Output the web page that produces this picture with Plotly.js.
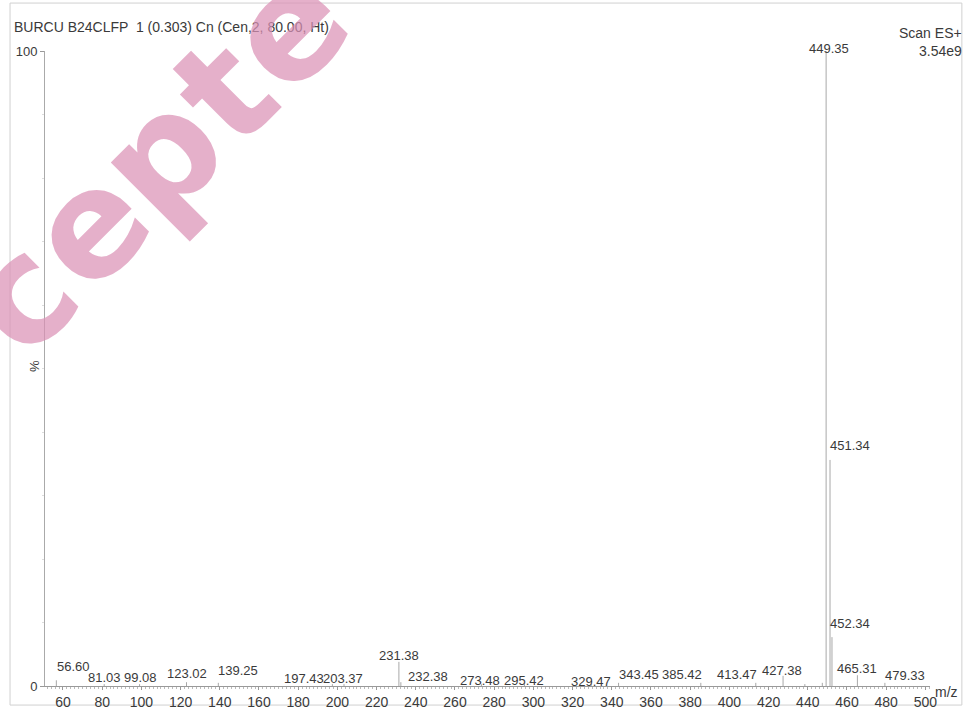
<!DOCTYPE html>
<html>
<head>
<meta charset="utf-8">
<script src="https://cdn.plot.ly/plotly-3.0.1.min.js"></script>
<style>html,body{margin:0;padding:0;background:#fff;}#chart{width:966px;height:710px;}</style>
</head>
<body>
<div id="chart"></div>
<script>
// ---- data ----
const peakMz = [56.60, 81.03, 99.08, 123.02, 139.25, 197.43, 203.37, 231.38, 232.38, 273.48, 295.42,
                329.47, 343.45, 385.42, 413.47, 427.38, 449.35, 451.34, 452.34, 465.31, 479.33];
const peakIntensity = [0.9, 0.3, 0.3, 0.6, 0.5, 0.3, 0.3, 3.8, 0.6, 0.3, 0.3,
                       0.3, 0.5, 0.5, 0.5, 1.6, 100, 35.6, 7.7, 1.7, 0.5];
const peakLabels = peakMz.map(v => v.toFixed(2));
const minorMz = [438.5, 447.4];
const minorIntensity = [0.3, 0.5];
const xTickVals = [60, 80, 100, 120, 140, 160, 180, 200, 220, 240, 260, 280, 300, 320, 340, 360, 380, 400, 420, 440, 460, 480, 500];
const yTickVals = [0, 100];
const titleText = 'BURCU B24CLFP  1 (0.303) Cn (Cen,2, 80.00, Ht)';
const stampLetters = ['c', 'e', 'p', 't', 'e'];   // visible part of the "Accepted" stamp

// ---- label placement (pixel offsets: horizontal shift, height of label centre above baseline) ----
const labelDx = [17, 0, 1, 0, 20, -28, -1, 0, 27, -1, 0, 0, 20, -19, -19, -1, 3, 20, 18, 0, 20];
const labelH  = [20, 9, 9, 13, 16, 8, 8, 31, 10, 6, 6, 5, 12, 12, 12, 16, 638, 241, 63, 18, 11];

const allMz = peakMz.concat(minorMz);
const allI = peakIntensity.concat(minorIntensity);
const sx = [], sy = [];
allMz.forEach((m, i) => { sx.push(m, m, null); sy.push(0, allI[i], null); });

const font = 'Liberation Sans, Arial, sans-serif';
const txt = '#3a3a3a';
// plot-area geometry (px) for converting the stamp placement
const L = 45, R = 930, T = 51, B = 686;
const px2paper = (px, py) => ({x: (px - L) / (R - L), y: (B - py) / (B - T)});

const annotations = [];
peakMz.forEach((m, i) => {
  annotations.push({
    x: m, y: 0, xref: 'x', yref: 'y', text: peakLabels[i], showarrow: false,
    xanchor: 'center', yanchor: 'middle', xshift: labelDx[i], yshift: labelH[i],
    font: {family: font, size: 13, color: txt}
  });
});
annotations.push(
  {x: 1.0384, y: 1.0283, xref: 'paper', yref: 'paper', text: 'Scan ES+', showarrow: false,
   xanchor: 'right', yanchor: 'middle', font: {family: font, size: 14, color: txt}},
  {x: 1.0384, y: 1.0, xref: 'paper', yref: 'paper', text: '3.54e9', showarrow: false,
   xanchor: 'right', yanchor: 'middle', font: {family: font, size: 14, color: txt}},
  {x: -0.0113, y: 0.504, xref: 'paper', yref: 'paper', text: '%', showarrow: false, textangle: -90,
   xanchor: 'center', yanchor: 'middle', font: {family: font, size: 13, color: txt}},
  {x: 1.0034, y: -0.0094, xref: 'paper', yref: 'paper', text: 'm/z', showarrow: false,
   xanchor: 'left', yanchor: 'middle', font: {family: font, size: 14, color: txt}}
);
// stamp: letters laid along a 45° line starting at the first visible letter
const stampStart = [20, 296];
const stampSteps = [0, 97, 199, 289, 378];
stampLetters.forEach((ch, i) => {
  const s = stampSteps[i] * Math.SQRT1_2;
  const p = px2paper(stampStart[0] + s, stampStart[1] - s);
  annotations.push({x: p.x, y: p.y, xref: 'paper', yref: 'paper', text: '<b>' + ch + '</b>',
    showarrow: false, textangle: -45, xanchor: 'center', yanchor: 'middle',
    font: {family: 'DejaVu Sans, sans-serif', size: 148, weight: 'bold', color: 'rgba(219,146,181,0.72)'}});
});

const trace = {
  x: sx, y: sy, type: 'scatter', mode: 'lines',
  line: {color: '#a8a8a8', width: 1}, hoverinfo: 'skip', showlegend: false, cliponaxis: false
};

const layout = {
  width: 966, height: 710,
  margin: {l: L, r: 966 - R, t: T, b: 710 - B},
  paper_bgcolor: '#ffffff', plot_bgcolor: '#ffffff',
  title: {text: titleText, x: 14/966, xref: 'container', xanchor: 'left',
          y: 1 - 27/710, yref: 'container', yanchor: 'middle',
          font: {family: font, size: 14, color: txt}},
  xaxis: {range: [50.82, 502.35], tickvals: xTickVals, ticks: 'outside', ticklen: 3, tickcolor: '#999',
          showline: true, linecolor: '#999', linewidth: 1, showgrid: false, zeroline: false,
          tickfont: {family: font, size: 14, color: txt},
          minor: {dtick: 2, tick0: 0, ticks: 'outside', ticklen: 2, tickcolor: '#bbb', showgrid: false}},
  yaxis: {range: [0, 100], tickvals: yTickVals, ticks: 'outside', ticklen: 4, tickcolor: '#999',
          showline: true, linecolor: '#aaa', linewidth: 1, showgrid: false, zeroline: false,
          tickfont: {family: font, size: 13, color: txt},
          minor: {dtick: 10, ticks: 'outside', ticklen: 2, tickcolor: '#ddd', showgrid: false}},
  shapes: [{type: 'rect', xref: 'paper', yref: 'paper', x0: -0.0395, x1: 1.036, y0: -0.030, y1: 1.0755,
            line: {color: '#d0d0d0', width: 1}, layer: 'below'}],
  annotations: annotations
};

Plotly.newPlot('chart', [trace], layout, {displayModeBar: false, staticPlot: true});
</script>
</body>
</html>
